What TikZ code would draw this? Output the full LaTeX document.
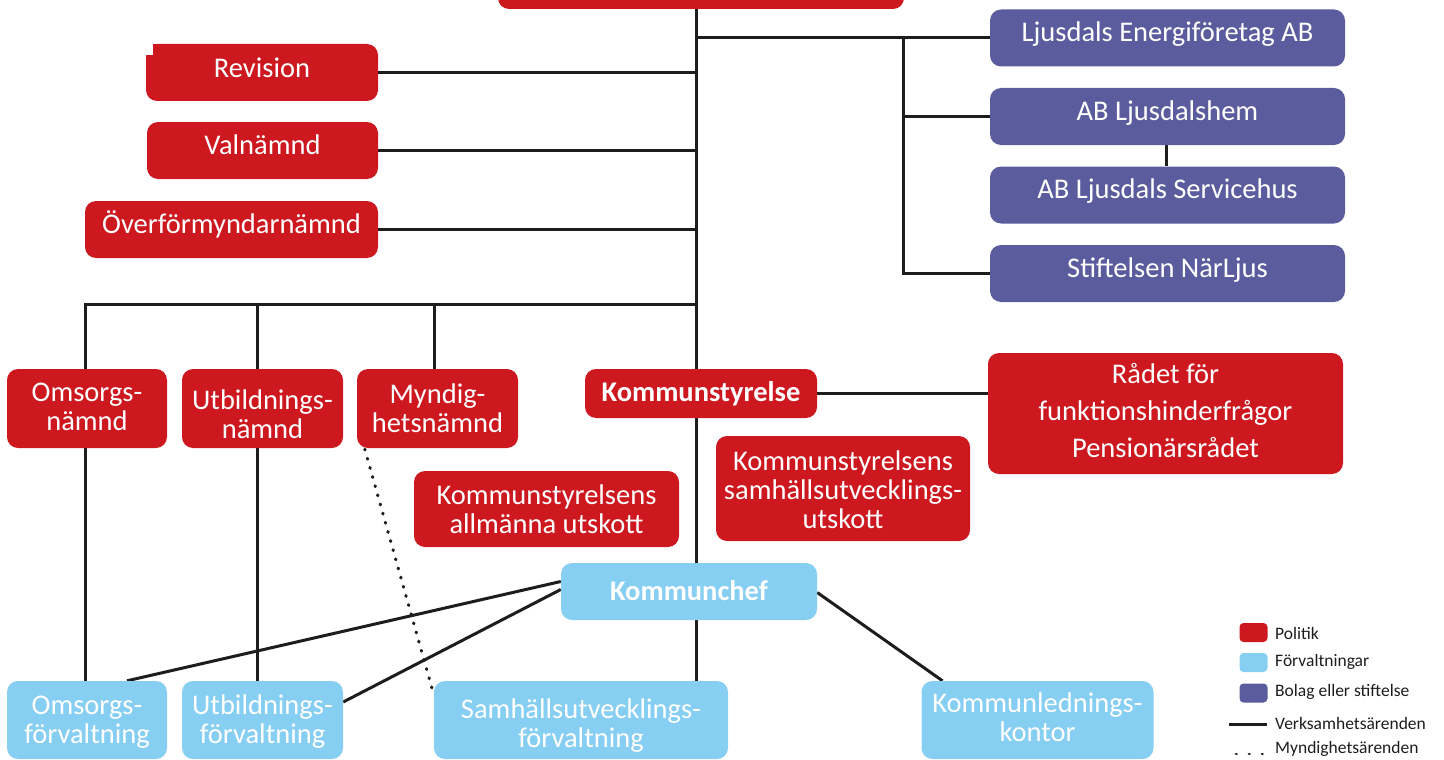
\documentclass[tikz,border=0pt]{standalone}
\usepackage{fontspec}
\setmainfont{Carlito}
\usetikzlibrary{backgrounds}
\definecolor{pol}{RGB}{204,24,30}
\definecolor{fv}{RGB}{135,206,243}
\definecolor{bol}{RGB}{91,92,158}
\definecolor{ln}{RGB}{29,29,27}
\newcommand{\rl}[2]{\raisebox{#1}[\height][\depth]{#2}}
\begin{document}
\begin{tikzpicture}[x=1pt,y=-1pt,
  box/.style={rounded corners=11pt, inner sep=0pt, align=center, text=white, font=\fontsize{28.5}{29}\selectfont},
  polbox/.style={box, fill=pol},
  fvbox/.style={box, fill=fv},
  bolbox/.style={box, fill=bol},
  conn/.style={draw=ln, line width=3pt},
  dots/.style={draw=ln, line width=3.2pt, line cap=round, dash pattern=on 0.8pt off 8.7pt},
  legtext/.style={anchor=west, inner sep=0pt, font=\fontsize{17.5}{20}\selectfont, text=ln},
  swatch/.style={rounded corners=4pt, minimum width=28pt, minimum height=19pt, inner sep=0pt}
]
\useasboundingbox (0,0) rectangle (1444,760);

% political bodies
\node[polbox, minimum width=406pt, minimum height=60pt] (top) at (701,-21) {};
\node[polbox, minimum width=232pt, minimum height=57pt] (rev) at (262,72.5) {\rl{5pt}{Revision}};
\node[polbox, minimum width=231pt, minimum height=57pt] (val) at (262.5,150.5) {\rl{6pt}{Valnämnd}};
\node[polbox, minimum width=293pt, minimum height=57pt] (ovf) at (231.5,229.5) {\rl{5pt}{Överförmyndarnämnd}};
\node[polbox, minimum width=160pt, minimum height=79pt] (omn) at (87,408.5) {\rl{2pt}{Omsorgs-}\\\rl{2pt}{nämnd}};
\node[polbox, minimum width=161pt, minimum height=79pt] (utn) at (262.5,408.5) {\rl{-6pt}{Utbildnings-}\\\rl{-6pt}{nämnd}};
\node[polbox, minimum width=161pt, minimum height=79pt] (myn) at (437.5,408.5) {Myndig-\\hetsnämnd};
\node[polbox, minimum width=232pt, minimum height=49pt, font=\fontsize{28.5}{29}\selectfont\bfseries] (ks) at (701,393.5) {Kommunstyrelse};
\node[polbox, minimum width=355pt, minimum height=121pt, font=\fontsize{28.5}{37}\selectfont] (rad) at (1165.5,413.5) {\rl{3pt}{Rådet för}\\\rl{3pt}{funktionshinderfrågor}\\\rl{3pt}{Pensionärsrådet}};
\node[polbox, minimum width=265pt, minimum height=76pt] (ksa) at (546.5,509) {Kommunstyrelsens\\allmänna utskott};
\node[polbox, minimum width=254pt, minimum height=105pt] (kss) at (843,488.5) {\rl{-1pt}{Kommunstyrelsens}\\\rl{-1pt}{samhällsutvecklings-}\\\rl{-1pt}{utskott}};

% administrations
\node[fvbox, minimum width=256pt, minimum height=57pt, font=\fontsize{28.5}{29}\selectfont\bfseries] (kc) at (689,591.5) {\rl{1pt}{Kommunchef}};
\node[fvbox, minimum width=160pt, minimum height=78pt] (of) at (87,720) {\rl{-2pt}{Omsorgs-}\\\rl{-2pt}{förvaltning}};
\node[fvbox, minimum width=161pt, minimum height=78pt] (uf) at (262.5,720) {\rl{-2pt}{Utbildnings-}\\\rl{-2pt}{förvaltning}};
\node[fvbox, minimum width=294pt, minimum height=78pt] (sf) at (581,720) {\rl{-6pt}{Samhällsutvecklings-}\\\rl{-6pt}{förvaltning}};
\node[fvbox, minimum width=232pt, minimum height=78pt] (kl) at (1037.5,720) {\rl{3pt}{Kommunlednings-}\\\rl{3pt}{kontor}};

% companies
\node[bolbox, minimum width=355pt, minimum height=57pt] (en) at (1167.5,38) {\rl{4pt}{Ljusdals Energiföretag AB}};
\node[bolbox, minimum width=355pt, minimum height=57pt] (hem) at (1167.5,116.5) {\rl{3pt}{AB Ljusdalshem}};
\node[bolbox, minimum width=355pt, minimum height=57pt] (serv) at (1167.5,195) {\rl{4pt}{AB Ljusdals Servicehus}};
\node[bolbox, minimum width=355pt, minimum height=57pt] (st) at (1167.5,273.5) {\rl{3pt}{Stiftelsen NärLjus}};

% notch of the Revision box
\fill[white] (145,43) rectangle (153,55);
\fill[pol] (146,55) rectangle (165,80);
\fill[pol] (153,44) rectangle (170,60);

\begin{scope}[on background layer]
\coordinate (spine) at (696,0);
\coordinate (cbus) at (903,0);
\coordinate (nbus) at (0,304);
\coordinate (omx) at (85,0);
\coordinate (utx) at (257,0);
\coordinate (myx) at (434,0);
\draw[conn] (spine |- top.south) -- (spine |- sf.north);
\draw[conn] (rev.east) -- (spine |- rev.east);
\draw[conn] (val.east) -- (spine |- val.east);
\draw[conn] (ovf.east) -- (spine |- ovf.east);
\draw[conn] (spine |- en.west) -- (en.west);
\draw[conn] (cbus |- en.west) -- (cbus |- st.west) -- (st.west);
\draw[conn] (cbus |- hem.west) -- (hem.west);
\draw[conn] ([xshift=-1.5pt]hem.south) -- ([xshift=-1.5pt]serv.north);
\draw[conn] (spine |- nbus) -- (omx |- nbus) -- (omx |- omn.north);
\draw[conn] (utx |- nbus) -- (utx |- utn.north);
\draw[conn] (myx |- nbus) -- (myx |- myn.north);
\draw[conn] (omx |- omn.south) -- (omx |- of.north);
\draw[conn] (utx |- utn.south) -- (utx |- uf.north);
\draw[conn] (ks.east) -- (ks.east -| rad.west);
\draw[conn] ([yshift=10pt]kc.west) -- ([xshift=40pt]of.north);
\draw[conn] ([yshift=2pt]kc.west) -- ([yshift=18pt]uf.east);
\draw[conn] ([yshift=-1pt]kc.east) -- ([xshift=-95pt]kl.north);
\draw[dots] ([xshift=8pt,yshift=-1pt]myn.south west) -- ([yshift=-14pt]sf.north west);
\end{scope}

% legend
\node[swatch, fill=pol] (lp) at (1253.5,632.5) {};
\node[legtext] (lpt) at (1275,633) {Politik};
\node[swatch, fill=fv] (lf) at (1253.5,662.5) {};
\node[legtext] (lft) at (1275,662) {Förvaltningar};
\node[swatch, fill=bol] (lb) at (1253.5,693) {};
\node[legtext] (lbt) at (1275,692) {Bolag eller stiftelse};
\coordinate (lv1) at (1229,724);
\coordinate (lv2) at (1267,724);
\draw[conn] (lv1) -- (lv2);
\node[legtext] (lvt) at (1275,723) {Verksamhetsärenden};
\coordinate (lm1) at (1236,754);
\coordinate (lm2) at (1264,754);
\draw[dots, line width=2.8pt, dash pattern=on 0.6pt off 12.4pt] (lm1) -- (lm2);
\node[legtext] (lmt) at (1275,749) {Myndighetsärenden};
\end{tikzpicture}
\end{document}
